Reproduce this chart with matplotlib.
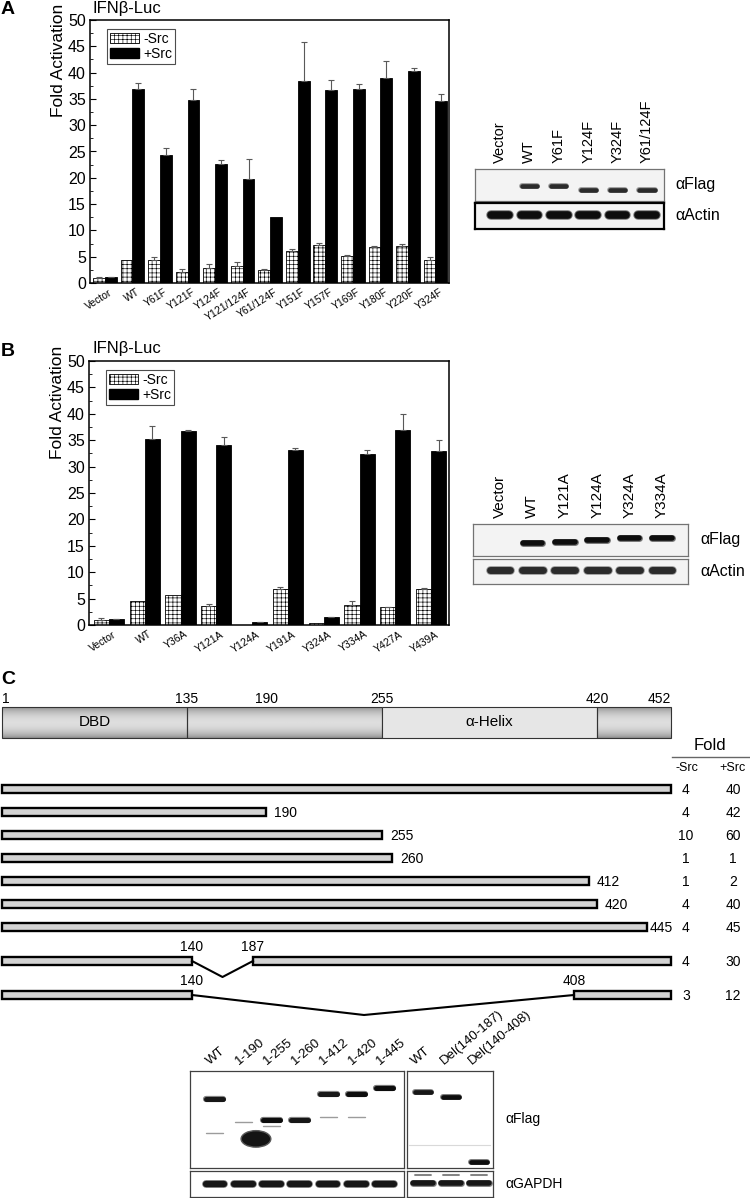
import numpy as np
import matplotlib
matplotlib.use('Agg')
import matplotlib.pyplot as plt
import matplotlib.transforms as mt
from matplotlib import font_manager
from matplotlib.patches import Rectangle, Patch, Ellipse
from matplotlib.ticker import MultipleLocator

plt.rcParams['font.family'] = ['Liberation Sans', 'DejaVu Sans']
plt.rcParams['hatch.linewidth'] = 0.45
installed = {f.name for f in font_manager.fontManager.ttflist}
NARROW = 'Liberation Sans Narrow' if 'Liberation Sans Narrow' in installed else 'Liberation Sans'

# ---------------- data ----------------
# panel A reporter assay
a_labels = ['Vector', 'WT', 'Y61F', 'Y121F', 'Y124F', 'Y121/124F', 'Y61/124F',
            'Y151F', 'Y157F', 'Y169F', 'Y180F', 'Y220F', 'Y324F']
a_minus = [1.0, 4.4, 4.3, 2.1, 2.9, 3.2, 2.4, 6.0, 7.2, 5.2, 6.8, 7.1, 4.4]
a_minus_err = [0.2, 0.0, 0.7, 0.6, 0.7, 0.8, 0.3, 0.5, 0.4, 0.1, 0.2, 0.3, 0.5]
a_plus = [1.1, 36.8, 24.3, 34.7, 22.6, 19.8, 12.6, 38.4, 36.7, 36.8, 39.0, 40.3, 34.6]
a_plus_err = [0.1, 1.2, 1.4, 2.2, 0.8, 3.8, 0.0, 7.4, 1.9, 1.0, 3.3, 0.6, 1.3]

# panel B reporter assay
b_labels = ['Vector', 'WT', 'Y36A', 'Y121A', 'Y124A', 'Y191A', 'Y324A', 'Y334A', 'Y427A', 'Y439A']
b_minus = [1.0, 4.5, 5.6, 3.6, 0.05, 6.8, 0.3, 3.7, 3.4, 6.8]
b_minus_err = [0.3, 0.0, 0.0, 0.3, 0.0, 0.4, 0.0, 0.9, 0.1, 0.2]
b_plus = [1.1, 35.2, 36.8, 34.0, 0.6, 33.2, 1.5, 32.4, 37.0, 32.9]
b_plus_err = [0.1, 2.4, 0.2, 1.7, 0.05, 0.4, 0.1, 0.8, 2.9, 2.2]

# western blots (band height within box 0-1, intensity 0-1)
blot_a_lanes = ['Vector', 'WT', 'Y61F', 'Y124F', 'Y324F', 'Y61/124F']
blot_a_flag_pos = [0.47, 0.47, 0.47, 0.35, 0.35, 0.33]
blot_a_flag_int = [0.0, 0.85, 0.85, 0.85, 0.85, 0.85]
blot_a_actin_int = [1.0, 1.0, 1.0, 1.0, 1.0, 1.0]

blot_b_lanes = ['Vector', 'WT', 'Y121A', 'Y124A', 'Y324A', 'Y334A']
blot_b_flag_pos = [0.41, 0.41, 0.45, 0.5, 0.55, 0.57]
blot_b_flag_int = [0.0, 1.0, 1.0, 1.0, 1.0, 1.0]
blot_b_actin_int = [0.85, 0.85, 0.85, 0.85, 0.85, 0.85]

blot_c1_lanes = ['WT', '1-190', '1-255', '1-260', '1-412', '1-420', '1-445']
blot_c1_flag_pos = [0.71, 0.30, 0.49, 0.50, 0.76, 0.76, 0.82]
blot_c1_flag_int = [0.95, 1.0, 1.0, 0.95, 0.95, 1.0, 1.0]
blot_c1_faint_pos = [0.36, 0.47, 0.43, 0.0, 0.53, 0.53, 0.0]
blot_c2_lanes = ['WT', 'Del(140-187)', 'Del(140-408)']
blot_c2_flag_pos = [0.78, 0.73, 0.06]
blot_c2_flag_int = [0.95, 1.0, 1.0]

# panel C constructs
domain_bounds = [1, 135, 255, 420, 452]
domain_names = ['DBD', '', 'α-Helix', '']
header_nums = [1, 135, 190, 255, 420, 452]
construct_parts = [[(1, 452)], [(1, 190)], [(1, 255)], [(1, 260)], [(1, 412)],
                   [(1, 420)], [(1, 445)], [(1, 140), (187, 452)], [(1, 140), (408, 452)]]
fold_minus = [4, 4, 10, 1, 1, 4, 4, 4, 3]
fold_plus = [40, 42, 60, 1, 2, 40, 45, 30, 12]

# ---------------- layout ----------------
W, H = 750, 1198
fig = plt.figure(figsize=(W / 100, H / 100), dpi=100)


def px_axes(x0, y0, x1, y1):
    return fig.add_axes([x0 / W, 1 - y1 / H, (x1 - x0) / W, (y1 - y0) / H])


ov = fig.add_axes([0, 0, 1, 1])
ov.axis('off')


def bar_panel(box, labels, minus, minus_err, plus, plus_err, w, xlim, lab_dx):
    ax = px_axes(*box)
    x = np.arange(len(labels))
    ax.bar(x - w / 2, minus, w, color='white', edgecolor='black', hatch='++++', lw=0.6)
    ax.bar(x + w / 2, plus, w, color='black', edgecolor='black', lw=0.6)
    for xs, v, e in [(x - w / 2, minus, minus_err), (x + w / 2, plus, plus_err)]:
        v = np.array(v); e = np.array(e)
        m = e > 0
        ax.errorbar(xs[m], v[m], yerr=[np.zeros(m.sum()), e[m]], fmt='none',
                    ecolor='0.35', elinewidth=0.8, capsize=2, capthick=0.8)
    ax.set_xlim(*xlim)
    ax.set_ylim(0, 50)
    ax.yaxis.set_major_locator(MultipleLocator(5))
    ax.yaxis.set_minor_locator(MultipleLocator(2.5))
    ax.tick_params(axis='y', which='major', direction='in', length=4, width=0.8, labelsize=11.5, pad=3)
    ax.tick_params(axis='y', which='minor', direction='in', length=2, width=0.6)
    for t in ax.get_yticklabels():
        t.set_family(NARROW)
    ax.set_xticks(x)
    ax.set_xticklabels(labels, rotation=32, ha='right', rotation_mode='anchor', fontsize=7.5)
    ax.tick_params(axis='x', length=0, pad=3)
    for t in ax.get_xticklabels():
        t.set_transform(t.get_transform() + mt.ScaledTranslation(lab_dx / 100, 0, fig.dpi_scale_trans))
    for s in ax.spines.values():
        s.set_linewidth(1.1)
    ax.set_ylabel('Fold Activation', fontsize=12.5, labelpad=2)
    ax.yaxis.set_label_coords(-0.068, 0.845)
    handles = [Patch(facecolor='white', edgecolor='black', hatch='++++', lw=0.6, label='-Src'),
               Patch(facecolor='black', edgecolor='black', label='+Src')]
    lg = ax.legend(handles=handles, loc='upper left', bbox_to_anchor=(0.047, 0.966), borderaxespad=0,
                   fontsize=10, handlelength=2.1, handleheight=0.75, handletextpad=0.3,
                   labelspacing=0.05, borderpad=0.22, fancybox=False, framealpha=1)
    lg.get_frame().set_edgecolor('0.3')
    lg.get_frame().set_linewidth(0.8)
    return ax


bar_panel((90, 20, 449, 283), a_labels, a_minus, a_minus_err, a_plus, a_plus_err,
          0.43, (-0.54, 12.49), 4)
bar_panel((89, 361, 449, 625), b_labels, b_minus, b_minus_err, b_plus, b_plus_err,
          0.42, (-0.556, 9.5), 4)

# panel letters and titles
for lab, y in [('A', 10), ('B', 351), ('C', 680)]:
    ov.text(1, y, lab, fontsize=14, fontweight='bold', va='center', ha='left')
for y in [9, 348]:
    ov.text(92, y, 'IFNβ-Luc', fontsize=12, va='center', ha='left')


def band(ax, x, y, hw, lw, inten):
    g = 1 - inten
    ax.plot([x - hw, x + hw], [y, y], lw=lw * 1.25, color=str(min(1, g + 0.35)),
            solid_capstyle='round', alpha=0.8)
    ax.plot([x - hw, x + hw], [y, y], lw=lw, color=str(g * 0.8 + 0.05), solid_capstyle='round')


def blot_box(box, xlim, edge='0.45', elw=0.9, face='#f3f3f3'):
    ax = px_axes(*box)
    ax.set_xlim(*xlim)
    ax.set_ylim(0, 1)
    ax.set_xticks([]); ax.set_yticks([])
    ax.set_facecolor(face)
    for s in ax.spines.values():
        s.set_edgecolor(edge)
        s.set_linewidth(elw)
    return ax


def side_label(ax, text, size, dx=10):
    ax.annotate(text, xy=(1, 0.5), xycoords='axes fraction', xytext=(dx, 0),
                textcoords='offset points', va='center', ha='left', fontsize=size)


def top_labels(ax, lanes, size, rot=90, dx=0.0):
    for i, lab in enumerate(lanes):
        if rot == 90:
            ax.annotate(lab, xy=(i, 1), xycoords=('data', 'axes fraction'), xytext=(0, 4),
                        textcoords='offset points', rotation=90, ha='center', va='bottom',
                        fontsize=size)
        else:
            ax.annotate(lab, xy=(i + dx, 1), xycoords=('data', 'axes fraction'), xytext=(0, 3),
                        textcoords='offset points', rotation=rot, ha='left', va='bottom',
                        rotation_mode='anchor', fontsize=size)


# blot A
fa = blot_box((475, 169, 664, 201), (-0.85, 5.58))
for i, (p, v) in enumerate(zip(blot_a_flag_pos, blot_a_flag_int)):
    if v > 0:
        band(fa, i, p, 0.26, 3.3, v)
top_labels(fa, blot_a_lanes, 10.5)
side_label(fa, 'αFlag', 11.5, 8)
aa = blot_box((475, 203, 664, 229), (-0.85, 5.58), edge='black', elw=1.6)
for i, v in enumerate(blot_a_actin_int):
    band(aa, i, 0.54, 0.3, 5.5, v)
side_label(aa, 'αActin', 11.5, 8)

# blot B
fb = blot_box((473, 524, 688, 556), (-0.83, 5.80))
for i, (p, v) in enumerate(zip(blot_b_flag_pos, blot_b_flag_int)):
    if v > 0:
        band(fb, i, p, 0.3, 4.0, v)
top_labels(fb, blot_b_lanes, 11)
side_label(fb, 'αFlag', 11.5, 9)
ab = blot_box((473, 559, 688, 584), (-0.83, 5.80))
for i, v in enumerate(blot_b_actin_int):
    band(ab, i, 0.55, 0.32, 5.0, v)
side_label(ab, 'αActin', 11.5, 9)

# blot C
fc1 = blot_box((190, 1071, 404, 1168), (-0.88, 6.68), edge='0.25', face='white')
for i, (p, v, fp) in enumerate(zip(blot_c1_flag_pos, blot_c1_flag_int, blot_c1_faint_pos)):
    if fp > 0:
        band(fc1, i, fp, 0.3, 1.0, 0.3)
    if i == 1:
        fc1.add_patch(Ellipse((i + 0.45, p), 1.05, 0.17, fc='0.08', ec='0.35', lw=1))
    else:
        band(fc1, i, p, 0.3, 3.6, v)
top_labels(fc1, blot_c1_lanes, 9.5, rot=40, dx=-0.1)
gc1 = blot_box((190, 1171, 404, 1197), (-0.88, 6.68), edge='0.25', face='white')
for i in range(len(blot_c1_lanes)):
    band(gc1, i, 0.5, 0.33, 4.5, 0.95)
fc2 = blot_box((407, 1071, 493, 1168), (-0.57, 2.5), edge='0.25', face='white')
fc2.plot([-0.5, 2.4], [0.24, 0.24], color='0.85', lw=0.8)
for i, (p, v) in enumerate(zip(blot_c2_flag_pos, blot_c2_flag_int)):
    band(fc2, i, p, 0.3, 3.4, v)
top_labels(fc2, blot_c2_lanes, 9.5, rot=40, dx=-0.2)
side_label(fc2, 'αFlag', 10, 9)
gc2 = blot_box((407, 1171, 493, 1197), (-0.57, 2.5), edge='0.25', face='white')
for i in range(len(blot_c2_lanes)):
    band(gc2, i, 0.55, 0.35, 4.0, 0.95)
    band(gc2, i, 0.85, 0.3, 1.2, 0.5)
side_label(gc2, 'αGAPDH', 10, 9)

# panel C schematic (pixel space of overlay axes)
res_anchor = [1, 135, 140, 187, 190, 255, 260, 408, 412, 420, 445, 452]
px_anchor = [2, 187, 192, 253, 266, 382, 392, 574, 589, 597, 647, 671]


def rx(r):
    return float(np.interp(r, res_anchor, px_anchor))


dom_top, dom_bot = 707, 738
t = np.linspace(0, 1, 64)
shade = (0.55 + 0.32 * np.sin(np.pi * t) ** 0.7)[:, None]
for a, b, name in zip(domain_bounds[:-1], domain_bounds[1:], domain_names):
    x0, x1 = rx(a), rx(b)
    if name.startswith('α'):
        ov.add_patch(Rectangle((x0, dom_top), x1 - x0, dom_bot - dom_top, fc='#e6e6e6', ec='none'))
    else:
        ov.imshow(shade, extent=(x0, x1, dom_bot, dom_top), cmap='gray', vmin=0, vmax=1,
                  aspect='auto', interpolation='bilinear')
    ov.add_patch(Rectangle((x0, dom_top), x1 - x0, dom_bot - dom_top, fc='none', ec='0.2', lw=0.8))
    if name:
        ov.text((x0 + x1) / 2, (dom_top + dom_bot) / 2, name, ha='center', va='center',
                fontsize=11, family=NARROW)
for n in header_nums:
    ha = 'left' if n == 1 else ('right' if n == 452 else 'center')
    ov.text(rx(n), dom_top - 1, str(n), ha=ha, va='bottom', fontsize=10, family=NARROW)

# fold header
ov.text(710, 745, 'Fold', ha='center', va='center', fontsize=12)
ov.plot([672, 750], [757, 757], color='0.4', lw=1)
ov.text(687, 768, '-Src', ha='center', va='center', fontsize=9, family=NARROW)
ov.text(732, 768, '+Src', ha='center', va='center', fontsize=9, family=NARROW)

bar_h = 8
for i, parts in enumerate(construct_parts):
    y = 789 + 23 * i + (11 * (i - 6) if i >= 7 else 0)
    for a, b in parts:
        ov.add_patch(Rectangle((rx(a), y - bar_h / 2), rx(b) - rx(a), bar_h,
                               fc='#d3d3d3', ec='black', lw=1.7))
    if len(parts) == 1 and parts[0][1] != 452:
        end = parts[0][1]
        ov.text(rx(end) + (3 if end == 445 else 8), y + 1, str(end), ha='left', va='center',
                fontsize=10, family=NARROW)
    if len(parts) == 2:
        e1, s2 = parts[0][1], parts[1][0]
        depth = 16 if i == 7 else 20
        xm = (rx(e1) + rx(s2)) / 2 if i == 7 else 364
        ov.plot([rx(e1), xm, rx(s2)], [y, y + depth, y], color='black', lw=1.5)
        ov.text(rx(e1), y - 7, str(e1), ha='center', va='bottom', fontsize=10, family=NARROW)
        ov.text(rx(s2), y - 7, str(s2), ha='center', va='bottom', fontsize=10, family=NARROW)
    ov.text(686, y + 1, str(fold_minus[i]), ha='center', va='center', fontsize=10, family=NARROW)
    ov.text(733, y + 1, str(fold_plus[i]), ha='center', va='center', fontsize=10, family=NARROW)

ov.set_xlim(0, W)
ov.set_ylim(H, 0)

fig.savefig('out.png', dpi=100)
